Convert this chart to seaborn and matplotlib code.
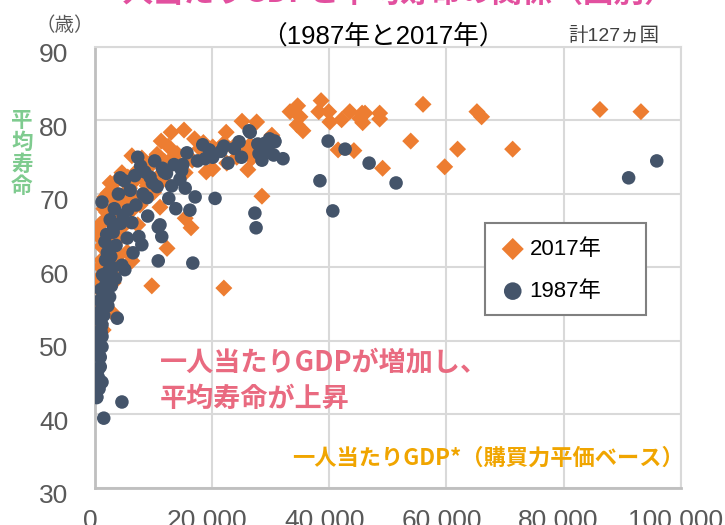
import matplotlib
matplotlib.use("Agg")
import matplotlib.pyplot as plt
import matplotlib.transforms as mtransforms
from matplotlib.patches import Rectangle
import seaborn as sns
import pandas as pd

# --- data: GDP per capita (USD, PPP) and life expectancy (years) ---
gdp_2017 = [33300, 34600, 35000, 34500, 35500, 38600, 38200, 39900, 40100, 27600,
            42100, 43500, 45600, 46100, 45200, 45700, 48600, 48600, 56000, 65200,
            66000, 86200, 93200, 53900, 61900, 71300, 59700, 49100, 41500, 44200,
            28500, 26500, 26800, 25100, 22400, 22000, 20100, 26100, 24200, 22500,
            20100, 15200, 13000, 11300, 6300, 8000, 10600, 11900, 13300, 14500,
            16600, 17900, 19100, 10600, 11600, 15400, 4600, 3800, 2600, 5600,
            6500, 8200, 1700, 2200, 8900, 6800, 7700, 6300, 11100, 3400,
            15400, 16400, 7300, 4800, 1700, 2900, 3800, 1200, 12300, 9700,
            22000, 3800, 5500, 6300, 900, 1700, 2900, 500, 1700, 3100,
            2900, 900, 1400, 300, 1200, 2000, 800, 2500, 1500, 4000,
            3000, 5000, 7000, 9000, 12500, 14000, 17000, 18500, 9500, 5200,
            10000, 1100, 2300, 600, 1000, 2000, 4300, 25500, 29500, 30200,
            23500, 19000, 12000, 2400, 1300, 3600, 5900]
life_2017 = [81.2, 82.0, 80.5, 79.4, 78.6, 82.7, 81.2, 81.2, 79.8, 79.8,
             80.1, 81.2, 81.0, 81.0, 80.3, 79.7, 81.0, 80.2, 82.2, 81.2,
             80.5, 81.5, 81.2, 77.2, 76.1, 76.1, 73.7, 73.5, 76.0, 75.9,
             69.7, 76.7, 74.9, 79.9, 78.4, 76.9, 76.4, 73.3, 75.0, 74.2,
             73.4, 78.7, 78.4, 77.2, 75.2, 74.9, 75.4, 74.4, 75.0, 73.9,
             74.6, 76.2, 75.6, 72.2, 71.9, 72.9, 72.9, 71.9, 71.5, 72.3,
             71.6, 72.1, 69.6, 70.1, 71.1, 69.6, 68.5, 67.8, 68.2, 68.4,
             66.7, 65.4, 65.8, 65.6, 66.5, 64.8, 63.7, 62.8, 62.6, 57.5,
             57.2, 61.4, 62.1, 60.9, 60.1, 59.4, 59.2, 57.2, 57.9, 57.9,
             53.9, 52.4, 51.5, 64.7, 63.8, 67.5, 65.8, 66.2, 68.0, 67.0,
             70.5, 70.0, 73.0, 73.5, 76.5, 75.5, 77.5, 77.0, 74.3, 68.8,
             70.2, 61.0, 62.0, 58.5, 55.0, 64.0, 64.5, 75.5, 76.0, 78.0,
             76.3, 73.0, 73.2, 60.5, 63.0, 69.0, 70.8]

gdp_1987 = [26500, 30700, 29000, 28000, 29500, 30500, 28500, 32100, 39800, 42700,
            46800, 38400, 51400, 40600, 27300, 91100, 95900, 26300, 24600, 30700,
            27500, 18400, 20100, 15700, 22700, 7300, 9400, 13100, 15400, 17100,
            20500, 12600, 16200, 11100, 11400, 7500, 8000, 4300, 1200, 4800,
            6300, 10600, 8900, 16700, 10800, 10800, 5100, 4600, 2000, 2500,
            3800, 1200, 1200, 1200, 900, 900, 1200, 300, 4600, 1500,
            500, 400, 700, 1000, 1500, 2200, 2800, 3500, 300, 6000,
            8500, 11500, 13500, 14500, 17500, 19500, 22000, 25000, 3200, 2000,
            5500, 1800, 2500, 3000, 6500, 9000, 7000, 13800, 800, 1000,
            1600, 2300, 600, 1400, 900, 1700, 2600, 3300, 4000, 5000,
            6800, 7800, 10200, 12200, 14800, 18800, 21500, 23800, 27800, 29800,
            700, 1100, 1900, 2700, 3600, 4400, 5600, 8200, 9800, 11800,
            15000, 700, 500, 800, 1300, 2100, 3100]
life_1987 = [78.4, 77.1, 76.9, 75.5, 76.0, 75.3, 74.6, 74.8, 77.2, 76.1,
             74.2, 71.8, 71.5, 67.7, 67.4, 72.2, 74.5, 78.6, 77.1, 77.2,
             65.4, 76.7, 75.0, 75.6, 74.2, 75.0, 72.3, 71.1, 70.8, 69.6,
             69.4, 69.4, 67.8, 65.8, 64.2, 64.2, 63.1, 72.2, 68.9, 67.1,
             66.1, 71.0, 69.5, 60.6, 60.9, 65.5, 59.7, 60.3, 55.6, 56.0,
             53.1, 52.2, 50.6, 49.2, 47.8, 46.5, 44.4, 42.4, 41.7, 39.5,
             46.0, 48.5, 50.0, 51.5, 53.5, 54.8, 57.5, 58.5, 42.3, 70.5,
             73.0, 73.5, 74.0, 72.0, 74.5, 76.0, 76.5, 75.0, 65.5, 64.5,
             64.0, 61.0, 62.5, 60.0, 62.0, 67.0, 68.5, 68.0, 54.0, 57.0,
             58.8, 59.5, 45.0, 55.0, 52.8, 63.5, 66.5, 68.0, 70.0, 71.8,
             72.5, 73.8, 74.5, 72.8, 73.2, 74.8, 75.8, 76.2, 76.8, 77.5,
             48.0, 51.0, 57.8, 61.5, 63.0, 66.0, 67.8, 70.0, 71.5, 73.0,
             74.0, 43.5, 49.5, 55.5, 59.0, 62.0, 64.8]

df17 = pd.DataFrame({"gdp": gdp_2017, "life": life_2017})
df87 = pd.DataFrame({"gdp": gdp_1987, "life": life_1987})

sns.set_theme(style="white")
plt.rcParams["font.family"] = ["Liberation Sans", "Noto Sans CJK JP"]
JP = ["Noto Sans CJK JP", "Liberation Sans"]
LATIN_JP = ["Liberation Sans", "Noto Sans CJK JP"]

fig = plt.figure(figsize=(7.25, 5.25), dpi=100)
ax = fig.add_axes([0.131, 0.0705, 0.808, 0.84])

orange = "#ED7D31"
navy = "#44546A"
sns.scatterplot(data=df17, x="gdp", y="life", ax=ax, marker="D", s=75,
                color=orange, edgecolor="none", label="2017年", zorder=3)
sns.scatterplot(data=df87, x="gdp", y="life", ax=ax, marker="o", s=95,
                color=navy, edgecolor="none", label="1987年", zorder=4)

ax.set_xlim(0, 100000)
ax.set_ylim(30, 90)
ax.set_xticks(range(0, 100001, 20000))
ax.set_xticklabels([f"{v:,}" for v in range(0, 100001, 20000)])
ax.set_yticks(range(30, 91, 10))
ax.set_xlabel("")
ax.set_ylabel("")
ax.grid(True, color="#D9D9D9", linewidth=1.5)
ax.set_axisbelow(True)
for side in ["top", "right"]:
    ax.spines[side].set_color("#D9D9D9")
    ax.spines[side].set_linewidth(1.5)
for side in ["left", "bottom"]:
    ax.spines[side].set_color("#BFBFBF")
    ax.spines[side].set_linewidth(2)
ax.tick_params(axis="both", length=0, labelsize=19, labelcolor="#595959")
ax.tick_params(axis="x", pad=15)
ax.tick_params(axis="y", pad=19)
shift_y = mtransforms.ScaledTranslation(0, -6 / 100, fig.dpi_scale_trans)
for lab in ax.get_yticklabels():
    lab.set_transform(lab.get_transform() + shift_y)
shift_x = mtransforms.ScaledTranslation(-5 / 100, 0, fig.dpi_scale_trans)
for lab in ax.get_xticklabels():
    lab.set_transform(lab.get_transform() + shift_x)

# legend without its own frame; the wider box is drawn separately beneath it
leg = ax.legend(loc="upper left", bbox_to_anchor=(0.672, 0.562),
                bbox_transform=fig.transFigure, fontsize=16, markerscale=1.3,
                handletextpad=0.0, handlelength=1.5, labelspacing=0.95,
                borderpad=0.4, borderaxespad=0, frameon=False)
for t in leg.get_texts():
    t.set_color("black")
leg.set_zorder(10)
box = Rectangle((485 / 725, 1 - 315 / 525), 161 / 725, 92 / 525,
                transform=fig.transFigure, facecolor="white",
                edgecolor="#808080", linewidth=1.5, zorder=6, clip_on=False)
ax.add_patch(box)

# titles and annotations (main title sits mostly above the cropped top edge)
fig.text(0.53, 0.997, "一人当たりGDPと平均寿命の関係（国別）", ha="center", va="baseline",
         fontsize=22, color="#E2509F", family=JP, fontweight="bold")
fig.text(0.089, 0.951, "（歳）", ha="center", va="center", fontsize=14,
         color="#595959", family=JP)
fig.text(0.528, 0.931, "（1987年と2017年）", ha="center", va="center",
         fontsize=18.5, color="black", family=LATIN_JP)
fig.text(0.846, 0.931, "計127ヵ国", ha="center", va="center", fontsize=14,
         color="#404040", family=LATIN_JP)
fig.text(0.030, 0.708, "平\n均\n寿\n命", ha="center", va="center", fontsize=15.5,
         color="#7FCB8F", family=JP, fontweight="bold", linespacing=1.05)
fig.text(0.221, 0.275, "一人当たりGDPが増加し、\n平均寿命が上昇", ha="left",
         va="center", fontsize=19.5, color="#E96A80", family=JP,
         fontweight="bold", linespacing=1.4)
fig.text(0.403, 0.128, "一人当たりGDP*（購買力平価ベース）", ha="left", va="center",
         fontsize=16, color="#F0A500", family=JP, fontweight="bold")

fig.savefig("out.png", dpi=100)
